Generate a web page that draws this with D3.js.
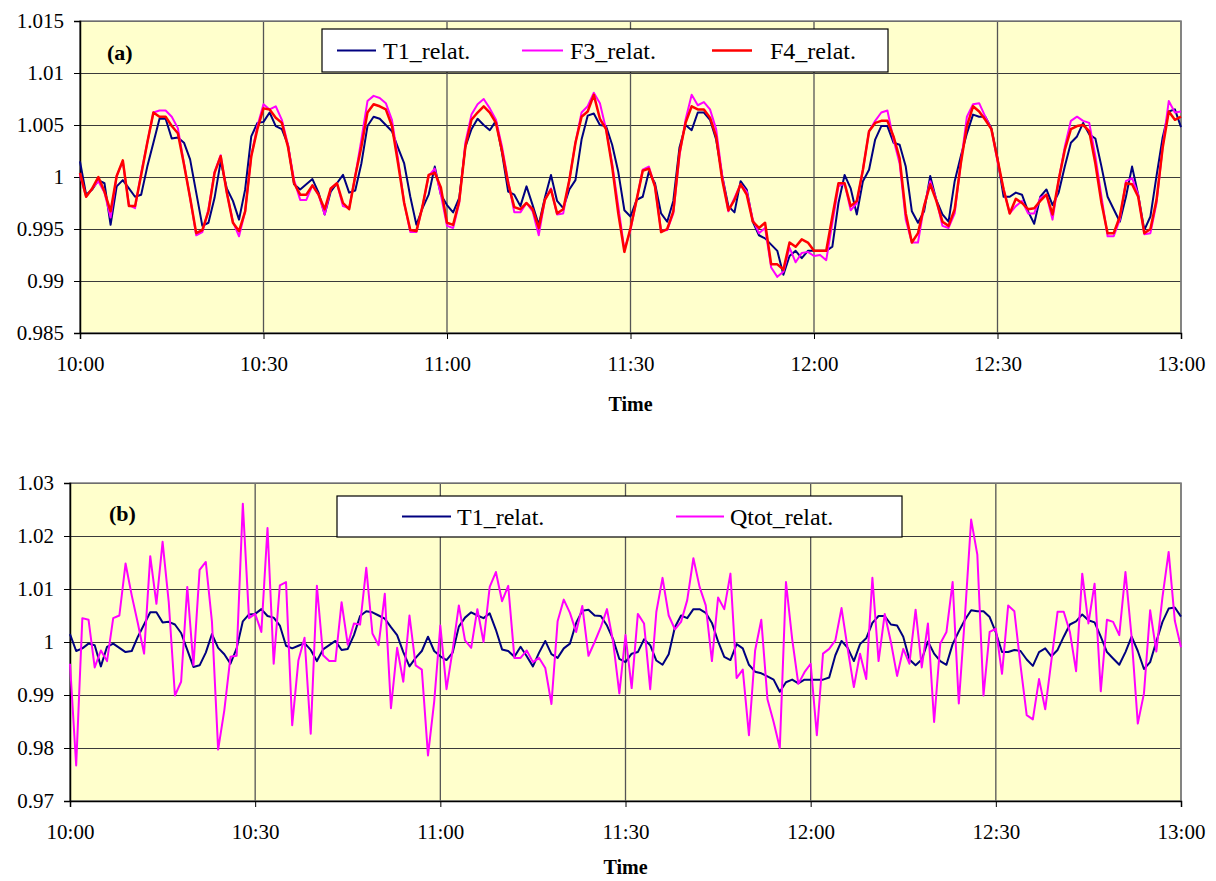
<!DOCTYPE html>
<html>
<head>
<meta charset="utf-8">
<script src="https://cdn.jsdelivr.net/npm/d3@7"></script>
<style>
  body { margin: 0; background: #fff; }
  svg text { font-family: "Liberation Serif", "Times New Roman", serif; fill: #000; }
</style>
</head>
<body>
<div id="chart"></div>
<script>
// one reading per minute, 10:00 .. 13:00
const startTime = new Date(2000, 0, 1, 10, 0);
const endTime = new Date(2000, 0, 1, 13, 0);

const T1_relat = [
  1.0015, 0.9983, 0.9988, 0.9997, 0.9994, 0.9954, 0.9991, 0.9997, 0.9989, 0.9981,
  0.9983, 1.0010, 1.0033, 1.0056, 1.0056, 1.0037, 1.0038, 1.0033, 1.0017, 0.9985,
  0.9953, 0.9956, 0.9980, 1.0015, 0.9989, 0.9977, 0.9959, 0.9988, 1.0039, 1.0052,
  1.0053, 1.0062, 1.0049, 1.0046, 1.0031, 0.9993, 0.9988, 0.9993, 0.9998, 0.9985,
  0.9964, 0.9986, 0.9994, 1.0002, 0.9985, 0.9987, 1.0013, 1.0049, 1.0058, 1.0056,
  1.0050, 1.0044, 1.0028, 1.0013, 0.9981, 0.9954, 0.9970, 0.9983, 1.0010, 0.9983,
  0.9973, 0.9966, 0.9980, 1.0029, 1.0046, 1.0056, 1.0050, 1.0045, 1.0054, 1.0023,
  0.9986, 0.9983, 0.9972, 0.9991, 0.9973, 0.9954, 0.9980, 1.0002, 0.9977, 0.9970,
  0.9988, 0.9997, 1.0036, 1.0059, 1.0061, 1.0050, 1.0049, 1.0031, 1.0005, 0.9968,
  0.9962, 0.9978, 0.9981, 1.0005, 0.9994, 0.9965, 0.9957, 0.9977, 1.0028, 1.0050,
  1.0045, 1.0062, 1.0062, 1.0055, 1.0036, 1.0001, 0.9972, 0.9966, 0.9996, 0.9988,
  0.9957, 0.9944, 0.9941, 0.9935, 0.9929, 0.9906, 0.9924, 0.9929, 0.9922, 0.9929,
  0.9929, 0.9929, 0.9929, 0.9933, 0.9975, 1.0002, 0.9989, 0.9964, 0.9996, 1.0007,
  1.0036, 1.0049, 1.0049, 1.0033, 1.0031, 1.0010, 0.9967, 0.9956, 0.9967, 1.0001,
  0.9978, 0.9964, 0.9957, 0.9996, 1.0020, 1.0042, 1.0060, 1.0058, 1.0058, 1.0047,
  1.0018, 0.9981, 0.9981, 0.9985, 0.9983, 0.9967, 0.9955, 0.9981, 0.9988, 0.9973,
  0.9985, 1.0010, 1.0033, 1.0039, 1.0052, 1.0041, 1.0037, 1.0010, 0.9981, 0.9969,
  0.9957, 0.9981, 1.0010, 0.9983, 0.9949, 0.9962, 1.0001, 1.0038, 1.0063, 1.0065,
  1.0048
];

const F3_relat = [
  1.0002, 0.9981, 0.9989, 0.9996, 0.9985, 0.9961, 1.0001, 1.0015, 0.9973, 0.9970,
  1.0004, 1.0033, 1.0062, 1.0064, 1.0064, 1.0058, 1.0047, 1.0013, 0.9980, 0.9944,
  0.9947, 0.9969, 1.0005, 1.0021, 0.9985, 0.9957, 0.9943, 0.9967, 1.0020, 1.0049,
  1.0070, 1.0065, 1.0068, 1.0055, 1.0031, 0.9997, 0.9978, 0.9978, 0.9992, 0.9983,
  0.9964, 0.9989, 0.9994, 0.9972, 0.9970, 1.0001, 1.0036, 1.0073, 1.0078, 1.0076,
  1.0071, 1.0055, 1.0017, 0.9975, 0.9947, 0.9947, 0.9972, 1.0001, 1.0008, 0.9983,
  0.9953, 0.9951, 0.9975, 1.0033, 1.0060, 1.0070, 1.0075, 1.0066, 1.0055, 1.0029,
  0.9996, 0.9966, 0.9966, 0.9975, 0.9967, 0.9944, 0.9978, 0.9989, 0.9964, 0.9965,
  0.9997, 1.0033, 1.0062, 1.0068, 1.0081, 1.0071, 1.0046, 1.0013, 0.9972, 0.9930,
  0.9949, 0.9978, 1.0007, 1.0010, 0.9991, 0.9948, 0.9949, 0.9965, 1.0020, 1.0055,
  1.0079, 1.0069, 1.0072, 1.0065, 1.0046, 1.0001, 0.9967, 0.9980, 0.9993, 0.9986,
  0.9959, 0.9946, 0.9951, 0.9913, 0.9904, 0.9909, 0.9932, 0.9918, 0.9927, 0.9928,
  0.9924, 0.9925, 0.9920, 0.9956, 0.9991, 0.9994, 0.9968, 0.9975, 1.0007, 1.0044,
  1.0054, 1.0062, 1.0064, 1.0036, 1.0013, 0.9959, 0.9937, 0.9937, 0.9972, 0.9996,
  0.9978, 0.9953, 0.9951, 0.9965, 1.0013, 1.0058, 1.0070, 1.0071, 1.0058, 1.0046,
  1.0015, 0.9988, 0.9965, 0.9972, 0.9977, 0.9965, 0.9965, 0.9980, 0.9983, 0.9959,
  0.9997, 1.0029, 1.0054, 1.0058, 1.0054, 1.0052, 1.0020, 0.9981, 0.9943, 0.9943,
  0.9959, 0.9996, 0.9999, 0.9983, 0.9945, 0.9946, 0.9975, 1.0029, 1.0073, 1.0062,
  1.0063
];

const F4_relat = [
  1.0004, 0.9981, 0.9989, 1.0000, 0.9986, 0.9967, 1.0001, 1.0016, 0.9972, 0.9972,
  1.0002, 1.0033, 1.0062, 1.0058, 1.0058, 1.0049, 1.0042, 1.0012, 0.9980, 0.9946,
  0.9949, 0.9967, 1.0004, 1.0020, 0.9985, 0.9956, 0.9948, 0.9967, 1.0020, 1.0046,
  1.0066, 1.0065, 1.0057, 1.0052, 1.0029, 0.9994, 0.9983, 0.9983, 0.9992, 0.9983,
  0.9969, 0.9989, 0.9994, 0.9975, 0.9969, 1.0001, 1.0029, 1.0062, 1.0070, 1.0068,
  1.0065, 1.0049, 1.0013, 0.9975, 0.9949, 0.9948, 0.9972, 1.0002, 1.0004, 0.9990,
  0.9956, 0.9954, 0.9977, 1.0029, 1.0055, 1.0062, 1.0068, 1.0062, 1.0052, 1.0025,
  0.9994, 0.9971, 0.9969, 0.9975, 0.9969, 0.9951, 0.9978, 0.9988, 0.9965, 0.9969,
  0.9997, 1.0033, 1.0058, 1.0063, 1.0079, 1.0056, 1.0046, 1.0010, 0.9965, 0.9928,
  0.9951, 0.9978, 1.0006, 1.0008, 0.9991, 0.9947, 0.9950, 0.9967, 1.0023, 1.0052,
  1.0068, 1.0065, 1.0065, 1.0057, 1.0039, 0.9997, 0.9968, 0.9978, 0.9993, 0.9983,
  0.9957, 0.9951, 0.9956, 0.9916, 0.9916, 0.9911, 0.9937, 0.9933, 0.9940, 0.9937,
  0.9929, 0.9929, 0.9929, 0.9962, 0.9994, 0.9994, 0.9972, 0.9977, 1.0007, 1.0044,
  1.0052, 1.0054, 1.0054, 1.0039, 1.0018, 0.9965, 0.9937, 0.9946, 0.9972, 0.9993,
  0.9977, 0.9957, 0.9953, 0.9969, 1.0013, 1.0049, 1.0068, 1.0063, 1.0055, 1.0046,
  1.0017, 0.9988, 0.9965, 0.9979, 0.9975, 0.9969, 0.9970, 0.9977, 0.9983, 0.9964,
  0.9997, 1.0026, 1.0046, 1.0049, 1.0050, 1.0044, 1.0013, 0.9975, 0.9946, 0.9946,
  0.9962, 0.9994, 0.9993, 0.9981, 0.9946, 0.9950, 0.9978, 1.0028, 1.0063, 1.0055,
  1.0058
];

const Qtot_relat = [
  0.9959, 0.9767, 1.0045, 1.0042, 0.9952, 0.9984, 0.9964, 1.0045, 1.0050, 1.0148,
  1.0088, 1.0035, 0.9978, 1.0162, 1.0072, 1.0189, 1.0075, 0.9899, 0.9925, 1.0104,
  0.9956, 1.0136, 1.0151, 1.0038, 0.9797, 0.9871, 0.9972, 0.9974, 1.0261, 1.0045,
  1.0053, 1.0019, 1.0215, 0.9959, 1.0107, 1.0113, 0.9843, 0.9965, 1.0008, 0.9827,
  1.0106, 0.9975, 0.9964, 0.9964, 1.0075, 0.9995, 1.0035, 1.0033, 1.0140, 1.0016,
  0.9994, 1.0091, 0.9875, 0.9989, 0.9925, 1.0050, 0.9956, 0.9948, 0.9786, 0.9887,
  1.0031, 0.9911, 0.9985, 1.0069, 1.0003, 0.9989, 1.0062, 1.0000, 1.0104, 1.0132,
  1.0077, 1.0106, 0.9970, 0.9970, 0.9984, 0.9962, 0.9970, 0.9951, 0.9883, 1.0039,
  1.0080, 1.0055, 1.0019, 1.0068, 0.9974, 1.0000, 1.0028, 1.0062, 1.0000, 0.9903,
  1.0013, 0.9913, 1.0053, 1.0035, 0.9911, 1.0057, 1.0121, 1.0050, 1.0024, 1.0038,
  1.0079, 1.0158, 1.0104, 1.0069, 0.9964, 1.0084, 1.0062, 1.0129, 0.9932, 0.9948,
  0.9824, 0.9984, 1.0042, 0.9892, 0.9849, 0.9800, 1.0113, 1.0006, 0.9921, 0.9943,
  0.9959, 0.9824, 0.9978, 0.9987, 1.0003, 1.0064, 0.9987, 0.9915, 0.9978, 0.9930,
  1.0121, 0.9964, 1.0053, 1.0000, 0.9936, 0.9987, 0.9959, 1.0061, 0.9952, 1.0035,
  0.9849, 0.9997, 1.0019, 1.0113, 0.9884, 1.0050, 1.0231, 1.0165, 0.9899, 1.0019,
  1.0025, 0.9940, 1.0069, 1.0058, 0.9956, 0.9862, 0.9854, 0.9930, 0.9873, 0.9965,
  1.0057, 1.0057, 1.0019, 0.9945, 1.0129, 1.0035, 1.0110, 0.9907, 1.0042, 1.0038,
  1.0013, 1.0132, 1.0009, 0.9846, 0.9903, 1.0060, 0.9982, 1.0085, 1.0170, 1.0040,
  0.9990
];

const yTicksA = [0.985, 0.99, 0.995, 1, 1.005, 1.01, 1.015];
const yTicksB = [0.97, 0.98, 0.99, 1, 1.01, 1.02, 1.03];

const width = 1216;
const height = 881;

const svg = d3
  .select('#chart')
  .append('svg')
  .attr('width', width)
  .attr('height', height);

function drawPanel(p) {
  const x = d3.scaleTime().domain([startTime, endTime]).range([p.left, p.right]);
  const y = d3.scaleLinear().domain(d3.extent(p.yTicks)).range([p.bottom, p.top]);
  const xTicks = x.ticks(d3.timeMinute.every(30));

  const g = svg.append('g');

  // plot background
  g.append('rect')
    .attr('x', p.left)
    .attr('y', p.top)
    .attr('width', p.right - p.left)
    .attr('height', p.bottom - p.top)
    .attr('fill', '#ffffcc');

  // grid lines
  g.append('g')
    .attr('stroke', '#3a3a3a')
    .attr('stroke-width', 1)
    .selectAll('line')
    .data(p.yTicks)
    .join('line')
    .attr('x1', p.left)
    .attr('x2', p.right)
    .attr('y1', d => Math.round(y(d)) + 0.5)
    .attr('y2', d => Math.round(y(d)) + 0.5);

  g.append('g')
    .attr('stroke', '#555')
    .attr('stroke-width', 1.3)
    .selectAll('line')
    .data(xTicks)
    .join('line')
    .attr('x1', d => x(d))
    .attr('x2', d => x(d))
    .attr('y1', p.top)
    .attr('y2', p.bottom);

  // plot border
  g.append('rect')
    .attr('x', p.left)
    .attr('y', p.top)
    .attr('width', p.right - p.left)
    .attr('height', p.bottom - p.top)
    .attr('fill', 'none')
    .attr('stroke', '#808080')
    .attr('stroke-width', 1.5);

  // axes
  const yAxis = g.append('g')
    .attr('transform', `translate(${p.left},0)`)
    .call(d3.axisLeft(y).tickValues(p.yTicks).tickSize(6).tickPadding(10).tickFormat(p.fmt));
  yAxis.selectAll('text').attr('font-size', 21);

  const xAxis = g.append('g')
    .attr('transform', `translate(0,${p.bottom})`)
    .call(d3.axisBottom(x).tickValues(xTicks).tickSize(6).tickPadding(17).tickFormat(d3.timeFormat('%H:%M')));
  xAxis.selectAll('text').attr('font-size', 21);

  [yAxis, xAxis].forEach(a => {
    a.select('.domain').attr('stroke', '#000').attr('stroke-width', 1.5);
    a.selectAll('.tick line').attr('stroke', '#000');
    a.selectAll('text').attr('font-family', '"Liberation Serif", serif');
  });

  // series
  const line = d3
    .line()
    .x((d, i) => x(d3.timeMinute.offset(startTime, i)))
    .y(d => y(d));

  p.series.forEach(s => {
    g.append('path')
      .datum(s.values)
      .attr('fill', 'none')
      .attr('stroke', s.color)
      .attr('stroke-width', s.width)
      .attr('stroke-linejoin', 'round')
      .attr('d', line);
  });

  // legend
  const lg = p.legend;
  g.append('rect')
    .attr('x', lg.x)
    .attr('y', lg.y)
    .attr('width', lg.w)
    .attr('height', lg.h)
    .attr('fill', '#fff')
    .attr('stroke', '#000')
    .attr('stroke-width', 1.2);

  p.series.forEach((s, i) => {
    const it = lg.items[i];
    const cy = lg.y + lg.h / 2;
    g.append('line')
      .attr('x1', it.x1)
      .attr('x2', it.x2)
      .attr('y1', cy)
      .attr('y2', cy)
      .attr('stroke', s.color)
      .attr('stroke-width', s.width);
    g.append('text')
      .attr('x', it.tx)
      .attr('y', cy)
      .attr('dy', '0.35em')
      .attr('font-size', 24)
      .text(s.name);
  });

  // panel tag
  g.append('text')
    .attr('x', p.tag.x)
    .attr('y', p.tag.y)
    .attr('dy', '0.35em')
    .attr('font-size', 22)
    .attr('font-weight', 'bold')
    .text(p.tag.text);

  // axis title
  g.append('text')
    .attr('x', (p.left + p.right) / 2)
    .attr('y', p.titleY)
    .attr('dy', '0.35em')
    .attr('text-anchor', 'middle')
    .attr('font-size', 20)
    .attr('font-weight', 'bold')
    .text('Time');
}

drawPanel({
  left: 80, right: 1181, top: 21, bottom: 333,
  yTicks: yTicksA,
  fmt: d => String(+d.toFixed(3)),
  series: [
    { name: 'T1_relat.', values: T1_relat, color: '#000080', width: 2 },
    { name: 'F3_relat.', values: F3_relat, color: '#ff00ff', width: 2 },
    { name: 'F4_relat.', values: F4_relat, color: '#ff0000', width: 2.5 },
  ],
  legend: {
    x: 322, y: 29, w: 566, h: 43,
    items: [
      { x1: 337, x2: 376, tx: 383 },
      { x1: 522, x2: 563, tx: 570 },
      { x1: 712, x2: 752, tx: 770 },
    ],
  },
  tag: { x: 107, y: 52, text: '(a)' },
  titleY: 404,
});

drawPanel({
  left: 70, right: 1181, top: 483, bottom: 801,
  yTicks: yTicksB,
  fmt: d => String(+d.toFixed(2)),
  series: [
    { name: 'T1_relat.', values: T1_relat, color: '#000080', width: 2 },
    { name: 'Qtot_relat.', values: Qtot_relat, color: '#ff00ff', width: 2 },
  ],
  legend: {
    x: 337, y: 496, w: 565, h: 41,
    items: [
      { x1: 402, x2: 451, tx: 457 },
      { x1: 676, x2: 724, tx: 730 },
    ],
  },
  tag: { x: 109, y: 513, text: '(b)' },
  titleY: 867,
});
</script>
</body>
</html>
